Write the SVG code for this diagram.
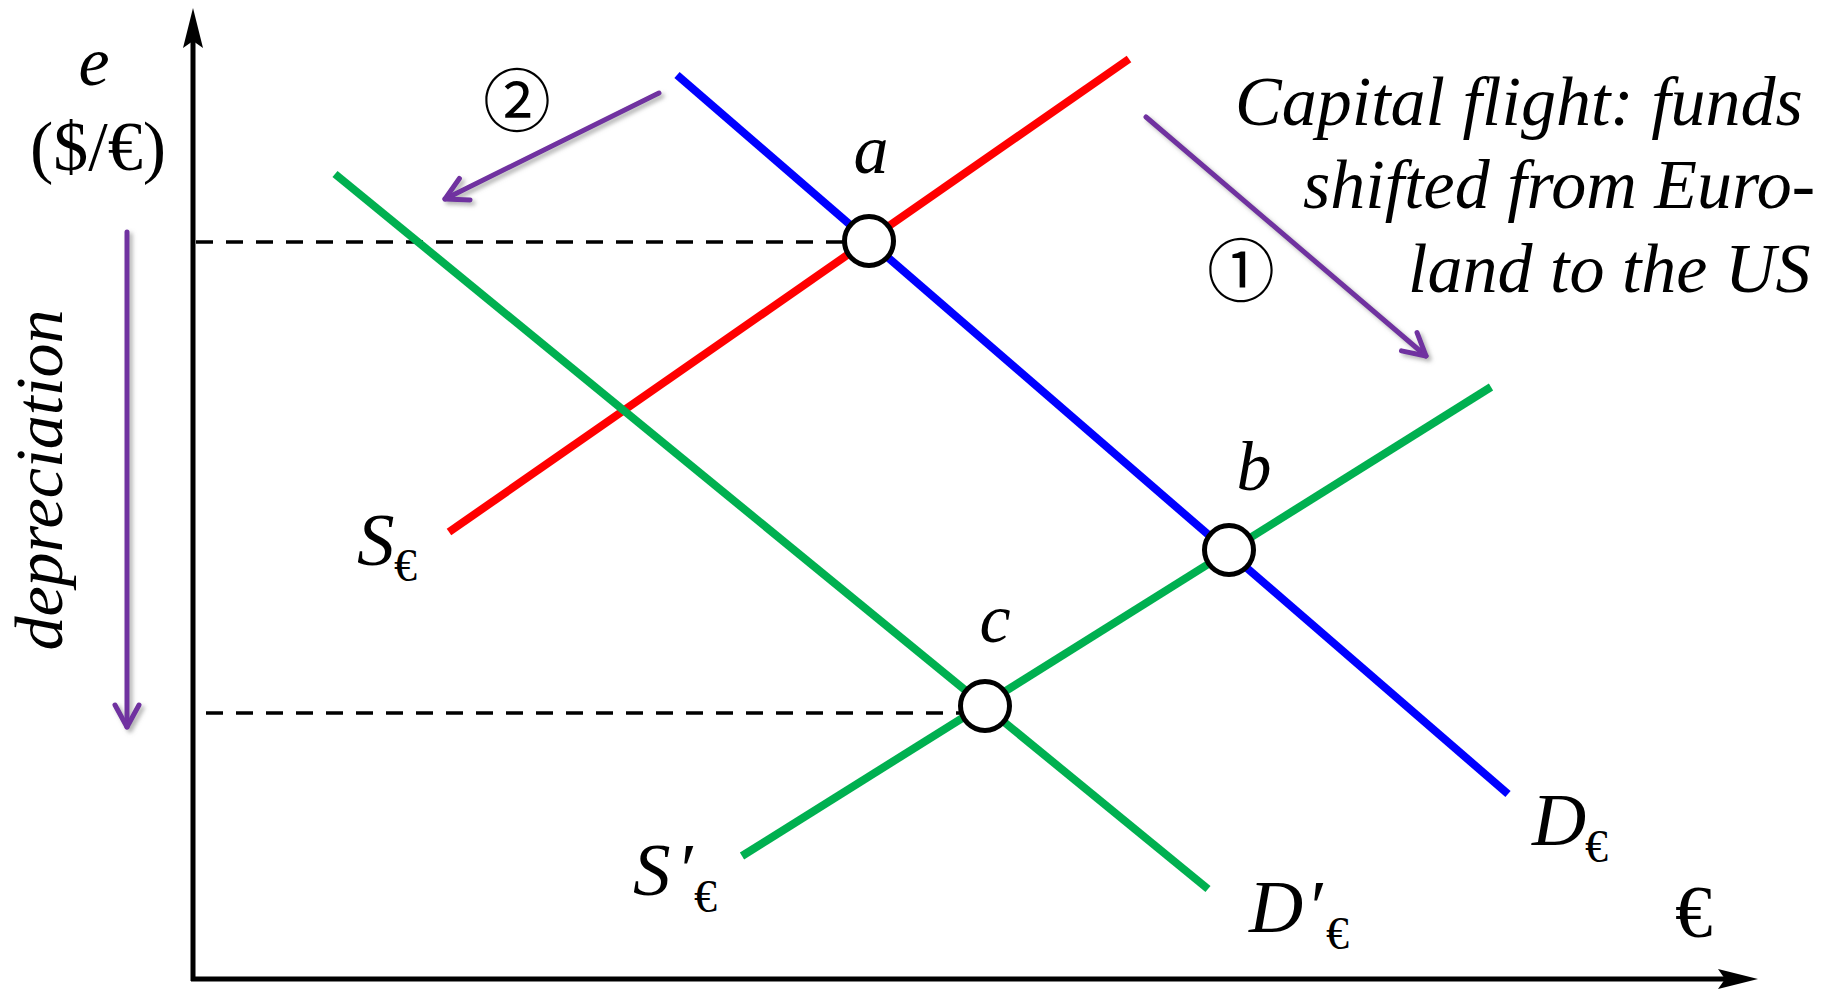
<svg xmlns="http://www.w3.org/2000/svg" width="1839" height="990" viewBox="0 0 1839 990">
<style>
.it{font-family:"Liberation Serif","Times New Roman",serif;font-style:italic;fill:#000}
.up{font-family:"Liberation Serif","Times New Roman",serif;fill:#000}
.cj{font-family:"Noto Sans CJK JP","DejaVu Sans",sans-serif;fill:#000}
.axis{stroke:#000;stroke-width:5;fill:none}
.dash{stroke:#000;stroke-width:3.5;stroke-dasharray:17 13;fill:none}
.curve{stroke-width:8;fill:none;stroke-linecap:butt}
.pur{stroke:#7030A0;stroke-width:5;fill:none;stroke-linecap:round;stroke-linejoin:round}
.pt{fill:#fff;stroke:#000;stroke-width:5}
</style>
<defs>
<filter id="sh" x="-20%" y="-20%" width="140%" height="140%">
<feDropShadow dx="3" dy="3" stdDeviation="2" flood-color="#808080" flood-opacity="0.6"/>
</filter>
<marker id="chev" markerUnits="userSpaceOnUse" viewBox="-26 -16 30 32" refX="0" refY="0" markerWidth="30" markerHeight="32" orient="auto">
<path d="M -22 -12 L 0 0 L -22 12" stroke="#7030A0" stroke-width="5" fill="none" stroke-linecap="round" stroke-linejoin="round"/>
</marker>
</defs>
<rect width="1839" height="990" fill="#fff"/>
<g id="axes">
<line class="axis" x1="193" y1="981" x2="193" y2="40"/>
<path d="M193 8 L203 48 L193 41 L183 48 Z" fill="#000"/>
<line class="axis" x1="191" y1="979" x2="1725" y2="979"/>
<path d="M1758 979 L1718 969 L1725 979 L1718 989 Z" fill="#000"/>
<text class="it" x="94" y="85" font-size="70" text-anchor="middle">e</text>
<text class="up" x="98" y="170" font-size="70" text-anchor="middle">($/€)</text>
<text class="up" x="1675" y="937" font-size="75">€</text>
</g>
<g id="guides">
<line class="dash" x1="196" y1="242" x2="845" y2="242"/>
<line class="dash" x1="206" y1="713" x2="961" y2="713"/>
</g>
<g id="connectors">
<line id="S" class="curve" stroke="#FF0000" x1="449" y1="532" x2="1129" y2="59"/>
<line id="D" class="curve" stroke="#0000FF" x1="677" y1="75" x2="1508" y2="794"/>
<line id="Dp" class="curve" stroke="#00B050" x1="335" y1="174" x2="1208" y2="889"/>
<line id="Sp" class="curve" stroke="#00B050" x1="742" y1="856" x2="1491" y2="387"/>
<g filter="url(#sh)">
<line class="pur" x1="127" y1="232" x2="127" y2="727" marker-end="url(#chev)"/>
<line class="pur" x1="659" y1="93" x2="445" y2="199" marker-end="url(#chev)"/>
<line class="pur" x1="1146" y1="117" x2="1426" y2="356" marker-end="url(#chev)"/>
</g>
</g>
<g id="node-a"><circle class="pt" cx="869" cy="241" r="24.5"/><text class="it" x="871" y="173" font-size="70" text-anchor="middle">a</text></g>
<g id="node-b"><circle class="pt" cx="1229" cy="550" r="24.5"/><text class="it" x="1254" y="490" font-size="70" text-anchor="middle">b</text></g>
<g id="node-c"><circle class="pt" cx="985" cy="706" r="24.5"/><text class="it" x="995" y="642" font-size="70" text-anchor="middle">c</text></g>
<g id="labels">
<text><tspan class="it" x="357" y="565" font-size="75">S</tspan><tspan class="up" x="394" y="581" font-size="46">€</tspan></text>
<text><tspan class="it" x="633" y="895" font-size="75">S</tspan><tspan class="it" x="676" y="895" font-size="75">′</tspan><tspan class="up" x="694" y="912" font-size="46">€</tspan></text>
<text><tspan class="it" x="1532" y="845" font-size="75">D</tspan><tspan class="up" x="1585" y="862" font-size="46">€</tspan></text>
<text><tspan class="it" x="1249" y="932" font-size="75">D</tspan><tspan class="it" x="1306" y="932" font-size="75">′</tspan><tspan class="up" x="1326" y="949" font-size="46">€</tspan></text>
<text class="it" font-size="68" text-anchor="middle" transform="translate(62,480) rotate(-90)">depreciation</text>
<text class="cj" x="517" y="96" font-size="68" text-anchor="middle" dominant-baseline="central">②</text>
<text class="cj" x="1241" y="266" font-size="68" text-anchor="middle" dominant-baseline="central">①</text>
<text class="it" font-size="70"><tspan x="1235" y="125">Capital flight: funds</tspan><tspan x="1303" y="208">shifted from Euro-</tspan><tspan x="1408" y="292">land to the US</tspan></text>
</g>
</svg>
